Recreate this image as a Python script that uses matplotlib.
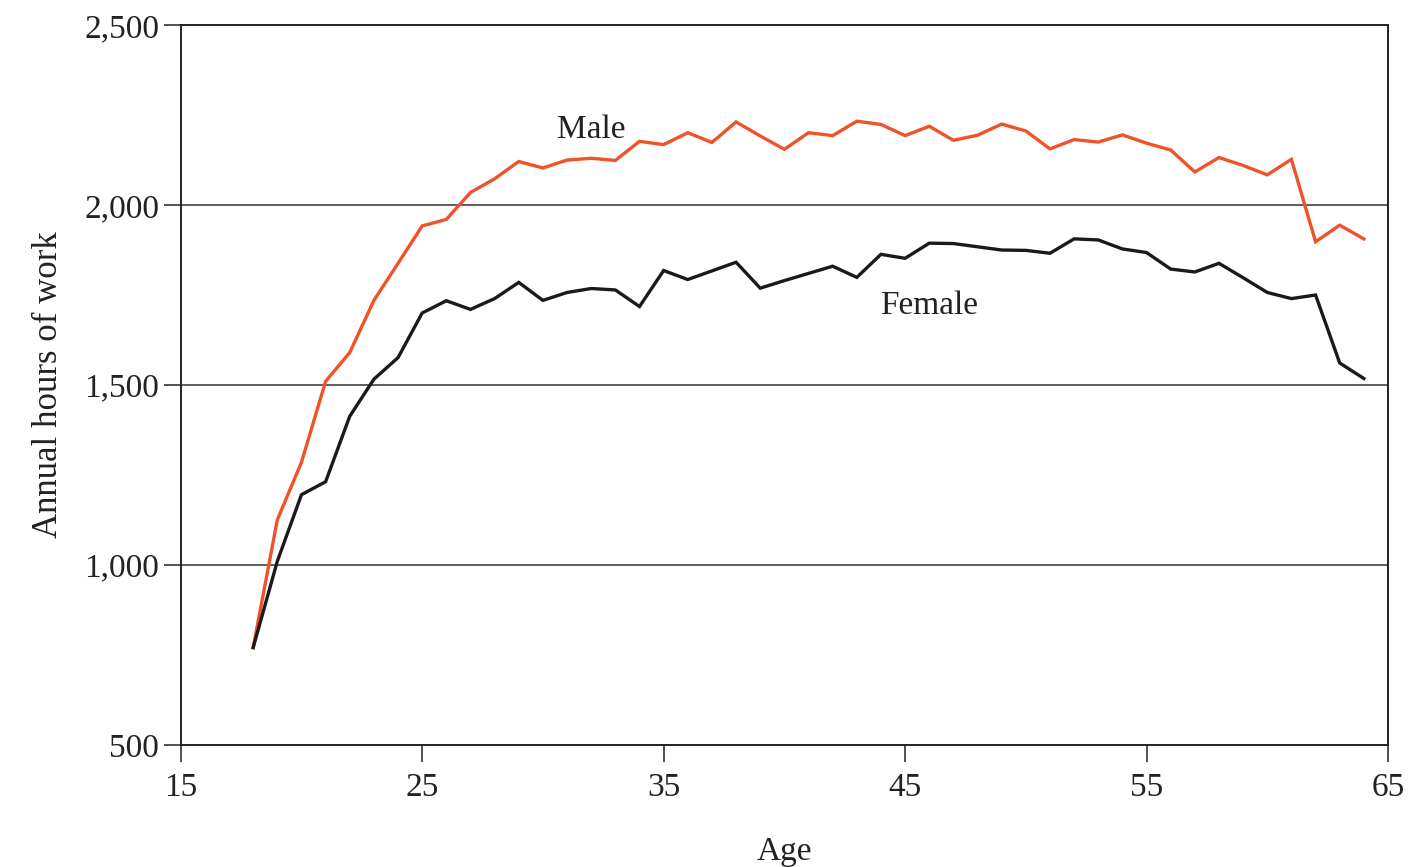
import numpy as np
import matplotlib
matplotlib.use("Agg")
import matplotlib.pyplot as plt

plt.rcParams['font.family'] = ['Liberation Serif', 'DejaVu Serif']

ages = list(range(18, 65))

male_hours = [770, 1125, 1285, 1510, 1590, 1735, 1838, 1942, 1960, 2035,
              2073, 2121, 2103, 2125, 2130, 2124, 2177, 2168, 2201, 2174,
              2231, 2192, 2155, 2201, 2193, 2233, 2224, 2193, 2219, 2180,
              2194, 2225, 2206, 2156, 2182, 2175, 2195, 2172, 2153, 2092,
              2132, 2110, 2084, 2127, 1898, 1944, 1906]

female_hours = [770, 1010, 1195, 1231, 1413, 1516, 1576, 1700, 1734, 1710,
                1740, 1785, 1735, 1757, 1768, 1764, 1718, 1818, 1793, 1817,
                1841, 1769, 1790, 1810, 1830, 1799, 1863, 1852, 1894, 1893,
                1884, 1875, 1874, 1866, 1906, 1903, 1878, 1868, 1822, 1814,
                1838, 1798, 1757, 1740, 1750, 1561, 1518]

y_ticks = [500, 1000, 1500, 2000, 2500]
y_labels = ["500", "1,000", "1,500", "2,000", "2,500"]
x_ticks = [15, 25, 35, 45, 55, 65]

fig = plt.figure(figsize=(14.12, 8.67), dpi=100)
ax = fig.add_axes([0.128, 0.141, 0.855, 0.830])

ax.plot(ages, male_hours, color='#f0522a', lw=2.4, solid_joinstyle='miter')
ax.plot(ages, female_hours, color='#1a1a1a', lw=2.4, solid_joinstyle='miter')

for v in [1000, 1500, 2000]:
    ax.axhline(v, color='#333333', lw=1.1, zorder=0)

ax.set_xlim(15, 65)
ax.set_ylim(500, 2500)
ax.set_yticks(y_ticks)
ax.set_yticklabels(y_labels)
ax.set_xticks(x_ticks)
ax.tick_params(direction='out', length=12, width=1.1, labelsize=24, colors='#222222')
ax.tick_params(axis='x', pad=8)
for s in ax.spines.values():
    s.set_linewidth(1.4)
    s.set_color('#222222')

ax.text(32.0, 2210, "Male", fontsize=24, ha='center', va='center', color='#222222')
ax.text(46.0, 1720, "Female", fontsize=24, ha='center', va='center', color='#222222')

ax.set_xlabel("Age", fontsize=24, color='#222222', labelpad=24)
ax.set_ylabel("Annual hours of work", fontsize=25, color='#222222', labelpad=14)

fig.savefig("out.png", dpi=100, facecolor='white')
